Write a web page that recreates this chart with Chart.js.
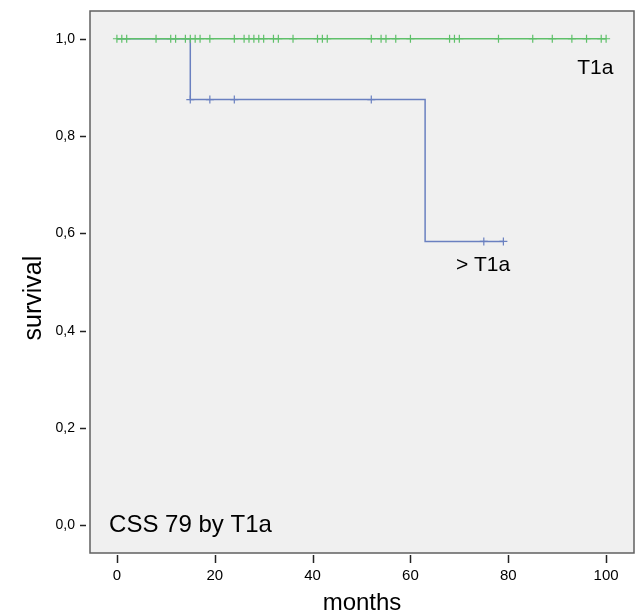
<!DOCTYPE html>
<html>
<head>
<meta charset="utf-8">
<script src="https://cdn.jsdelivr.net/npm/chart.js@4.4.1/dist/chart.umd.min.js"></script>
<style>
  html, body { margin: 0; padding: 0; background: #fff; }
  #kmChart { display: block; }
</style>
</head>
<body>
<canvas id="kmChart" width="636" height="613"></canvas>
<script>
// T1a: no deaths, only censored cases
const t1aTimes = [0, 100];
const t1aSurv = [1, 1];
const t1aCensored = [0, 1, 2, 8, 11, 12, 14, 15, 16, 17, 19, 24, 26, 27, 28, 29, 30, 32, 33, 36,
  41, 42, 43, 52, 54, 55, 57, 60, 68, 69, 70, 78, 85, 89, 93, 96, 99, 100];

// > T1a: deaths at 15 and 63 months
const gtTimes = [0, 15, 63, 79];
const gtSurv = [1, 0.875, 0.5833, 0.5833];
const gtCensored = [15, 19, 24, 52, 75, 79];
const gtCensoredSurv = [0.875, 0.875, 0.875, 0.875, 0.5833, 0.5833];

const xTicks = [0, 20, 40, 60, 80, 100];
const yTicks = [0, 0.2, 0.4, 0.6, 0.8, 1.0];

const green = "#5fc06a";
const blue = "#6a80c0";
const fontFamily = '"Liberation Sans", Arial, sans-serif';

Chart.defaults.font.family = fontFamily;
Chart.defaults.color = "#000";

// grey plot box, outside tick marks and in-plot labels (SPSS look)
const spssFrame = {
  id: "spssFrame",
  beforeDraw(chart) {
    const { ctx, chartArea: a } = chart;
    ctx.save();
    ctx.fillStyle = "#f0f0f0";
    ctx.fillRect(a.left, a.top, a.right - a.left, a.bottom - a.top);
    ctx.restore();
  },
  afterDraw(chart) {
    const { ctx, chartArea: a } = chart;
    const xs = chart.scales.x, ys = chart.scales.y;
    ctx.save();
    ctx.strokeStyle = "#606060";
    ctx.lineWidth = 1.5;
    ctx.strokeRect(a.left, a.top, a.right - a.left, a.bottom - a.top);

    ctx.strokeStyle = "#222";
    ctx.lineWidth = 1.5;
    yTicks.forEach((v) => {
      const py = Math.round(ys.getPixelForValue(v)) + 0.5;
      ctx.beginPath();
      ctx.moveTo(a.left - 10, py);
      ctx.lineTo(a.left - 4, py);
      ctx.stroke();
    });
    xTicks.forEach((v) => {
      const px = Math.round(xs.getPixelForValue(v)) + 0.5;
      ctx.beginPath();
      ctx.moveTo(px, a.bottom + 2);
      ctx.lineTo(px, a.bottom + 10);
      ctx.stroke();
    });

    ctx.fillStyle = "#000";
    ctx.textBaseline = "middle";
    ctx.textAlign = "left";
    ctx.font = "21px " + fontFamily;
    ctx.fillText("T1a", xs.getPixelForValue(94.1), ys.getPixelForValue(0.94));
    ctx.fillText("> T1a", xs.getPixelForValue(69.3), ys.getPixelForValue(0.535));
    ctx.font = "24px " + fontFamily;
    ctx.fillText("CSS 79 by T1a", xs.getPixelForValue(-1.6), ys.getPixelForValue(0.0));

    // y axis title, sits a bit below the middle of the box
    ctx.translate(a.left - 56, ys.getPixelForValue(0.467));
    ctx.rotate(-Math.PI / 2);
    ctx.textAlign = "center";
    ctx.font = "25px " + fontFamily;
    ctx.fillText("survival", 0, 0);
    ctx.restore();
  },
};

function toPoints(xs, ys) {
  return xs.map((x, i) => ({ x: x, y: ys[i] }));
}

let ctx = document.getElementById("kmChart").getContext("2d");
let kmChart = new Chart(ctx, {
  type: "scatter",
  data: {
    datasets: [
      {
        label: "T1a",
        data: toPoints(t1aTimes, t1aSurv),
        showLine: true,
        stepped: true,
        borderColor: green,
        borderWidth: 1.5,
        pointRadius: 0,
      },
      {
        label: "T1a censored",
        data: t1aCensored.map((t) => ({ x: t, y: 1 })),
        pointStyle: "cross",
        pointRadius: 4,
        borderColor: green,
        borderWidth: 1.2,
      },
      {
        label: "> T1a",
        data: toPoints(gtTimes, gtSurv),
        showLine: true,
        stepped: true,
        borderColor: blue,
        borderWidth: 1.5,
        pointRadius: 0,
      },
      {
        label: "> T1a censored",
        data: toPoints(gtCensored, gtCensoredSurv),
        pointStyle: "cross",
        pointRadius: 4,
        borderColor: blue,
        borderWidth: 1.2,
      },
    ],
  },
  options: {
    responsive: false,
    animation: false,
    layout: { autoPadding: false, padding: { top: 11, right: 2, left: 0, bottom: 0 } },
    plugins: {
      legend: { display: false },
      tooltip: { enabled: false },
    },
    scales: {
      x: {
        type: "linear",
        min: -5.5,
        max: 105.7,
        afterBuildTicks: (scale) => {
          scale.ticks = xTicks.map((v) => ({ value: v }));
        },
        afterFit: (scale) => {
          scale.height = 60;
          scale.paddingLeft = 0;
          scale.paddingRight = 0;
        },
        grid: { display: false, drawTicks: false },
        border: { display: false },
        ticks: { padding: 14, font: { size: 15 } },
        title: {
          display: true,
          text: "months",
          font: { size: 24 },
          padding: { top: 0, bottom: -5 },
        },
      },
      y: {
        type: "linear",
        min: -0.057,
        max: 1.057,
        afterBuildTicks: (scale) => {
          scale.ticks = yTicks.map((v) => ({ value: v }));
        },
        afterFit: (scale) => {
          scale.width = 90;
          scale.paddingTop = 0;
          scale.paddingBottom = 0;
        },
        grid: { display: false, drawTicks: false },
        border: { display: false },
        ticks: {
          padding: 15,
          font: { size: 14 },
          callback: (v) => v.toFixed(1).replace(".", ","),
        },
        title: { display: false },
      },
    },
  },
  plugins: [spssFrame],
});
</script>
</body>
</html>
